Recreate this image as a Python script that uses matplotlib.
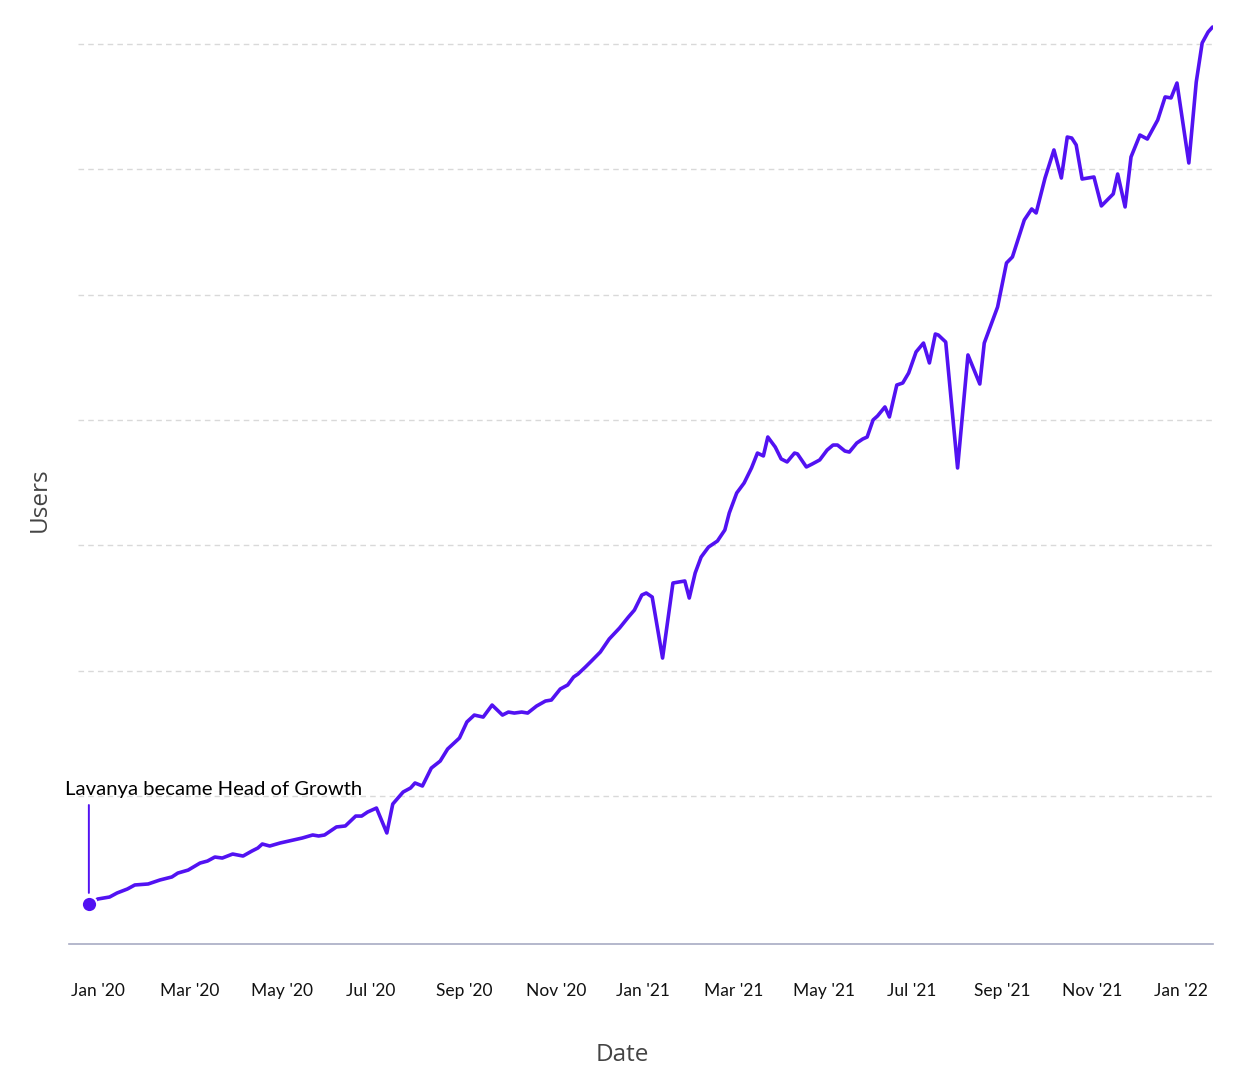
import matplotlib
matplotlib.use("Agg")
import matplotlib.pyplot as plt
import pandas as pd

# ---- data ----
start_date = "2020-01-01"
days_since_start = [
    -6, 0, 8, 13, 20, 25, 34, 42, 50, 54, 61, 69, 74, 79, 84, 91, 98, 104, 108, 111,
    116, 123, 132, 138, 145, 149, 153, 161, 167, 174, 178, 182, 188, 195, 199, 206,
    211, 214, 219, 225, 231, 236, 244, 249, 254, 260, 266, 273, 277, 281, 286, 290,
    296, 302, 306, 312, 317, 321, 324, 329, 333, 339, 345, 352, 358, 362, 367, 370,
    374, 381, 388, 396, 399, 403, 407, 412, 418, 423, 426, 431, 436, 441, 445, 449,
    452, 457, 461, 465, 470, 472, 478, 482, 487, 492, 496, 499, 504, 507, 512, 516,
    519, 523, 526, 531, 534, 539, 543, 547, 552, 557, 561, 565, 567, 572, 580, 587,
    595, 598, 607, 613, 617, 625, 630, 633, 639, 645, 650, 654, 657, 660, 664, 672,
    677, 685, 688, 693, 697, 703, 708, 715, 720, 724, 728, 736, 741, 745, 749, 752,
]
users = [
    1138, 1178, 1194, 1226, 1258, 1290, 1298, 1330, 1354, 1385, 1409, 1465, 1481, 1513,
    1505, 1537, 1521, 1561, 1585, 1617, 1601, 1625, 1649, 1665, 1689, 1681, 1689, 1753,
    1761, 1840, 1840, 1872, 1904, 1705, 1936, 2032, 2064, 2104, 2080, 2223, 2279, 2375,
    2463, 2591, 2646, 2630, 2726, 2646, 2670, 2662, 2670, 2662, 2718, 2758, 2766, 2854,
    2886, 2950, 2974, 3030, 3077, 3149, 3253, 3341, 3429, 3484, 3604, 3620, 3588, 3101,
    3700, 3716, 3580, 3780, 3907, 3987, 4035, 4123, 4259, 4418, 4498, 4618, 4737, 4714,
    4865, 4785, 4690, 4666, 4737, 4730, 4626, 4650, 4682, 4761, 4801, 4801, 4753, 4745,
    4817, 4849, 4865, 5001, 5033, 5105, 5025, 5280, 5296, 5376, 5544, 5615, 5456, 5687,
    5679, 5623, 4618, 5520, 5288, 5615, 5903, 6254, 6302, 6597, 6685, 6653, 6932, 7156,
    6932, 7259, 7251, 7196, 6924, 6940, 6709, 6805, 6964, 6701, 7100, 7275, 7243, 7395,
    7579, 7571, 7690, 7052, 7698, 8010, 8097, 8137,
]
grid_values = [2000, 3000, 4000, 5000, 6000, 7000, 8000]
# dates at which the reference places its month labels
tick_dates = ["2020-01-01", "2020-03-03", "2020-05-04", "2020-07-03", "2020-09-04",
              "2020-11-05", "2021-01-03", "2021-03-05", "2021-05-05", "2021-07-03",
              "2021-09-02", "2021-11-02", "2022-01-01"]
tick_labels = ["Jan '20", "Mar '20", "May '20", "Jul '20", "Sep '20", "Nov '20",
               "Jan '21", "Mar '21", "May '21", "Jul '21", "Sep '21", "Nov '21", "Jan '22"]
annotation_text = "Lavanya became Head of Growth"

dates = pd.Timestamp(start_date) + pd.to_timedelta(days_since_start, unit="D")

LINE = "#5212f2"

fig = plt.figure(figsize=(12.49, 10.81), dpi=100)
ax = fig.add_axes([69 / 1249, 137 / 1081, (1213 - 69) / 1249, (944 - 20) / 1081])

ax.plot(dates, users, color=LINE, lw=2.6, solid_joinstyle="round",
        solid_capstyle="round", zorder=3)

# gridlines
for g in grid_values:
    ax.axhline(g, xmin=9 / 1144, xmax=1.0, color="#d9d9d9", lw=1.0,
               dashes=(4, 3), zorder=1)

# first-point marker + annotation
ax.plot([dates[0]], [users[0]], "o", color=LINE, ms=11, mec="white", mew=1.5, zorder=4)
ax.annotate("", xy=(dates[0], users[0]), xytext=(0, 99), textcoords="offset pixels",
            arrowprops=dict(arrowstyle="-", color=LINE, lw=1.4, shrinkA=0, shrinkB=8),
            zorder=4)
ax.annotate(annotation_text, xy=(dates[0], users[0]), xytext=(-24, 109),
            textcoords="offset pixels", ha="left", va="baseline",
            fontsize=14.6, family="Lato", color="#000000")

ax.set_xlim(pd.Timestamp(start_date) - pd.Timedelta(days=19.4),
            pd.Timestamp(start_date) + pd.Timedelta(days=752.3))
ax.set_ylim(819, 8193)

ax.set_xticks(pd.to_datetime(tick_dates))
ax.set_xticklabels(tick_labels, family="Lato", fontsize=12.5, color="#111111")
ax.tick_params(axis="x", length=0, pad=28)
ax.set_yticks([])

for s in ["top", "right", "left"]:
    ax.spines[s].set_visible(False)
ax.spines["bottom"].set_color("#a8abc4")
ax.spines["bottom"].set_linewidth(1.2)

ax.set_xlabel("Date", family="Open Sans", fontsize=17.5, color="#444444", va="center")
ax.xaxis.set_label_coords((622 - 69) / 1144, -(1055 - 944) / 924)
ax.set_ylabel("Users", family="Open Sans", fontsize=17.5, color="#444444", va="center")
ax.yaxis.set_label_coords((40 - 69) / 1144, (944 - 500) / 924)

fig.savefig("out.png", dpi=100, facecolor="white")
